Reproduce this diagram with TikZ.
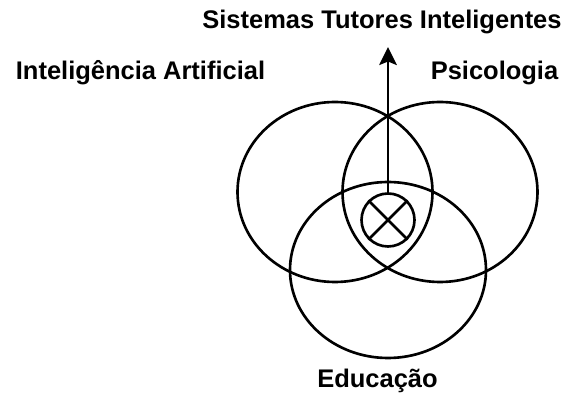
\documentclass[tikz,border=0pt]{standalone}
\usepackage{fontspec}
\setmainfont{Liberation Sans}
\usetikzlibrary{arrows.meta, positioning, shapes.geometric}

\begin{document}
\begin{tikzpicture}[
        area/.style={ellipse, draw=black, line width=1.5pt, inner sep=0pt},
        label/.style={anchor=base, inner sep=0pt, font=\fontsize{14.5}{17}\selectfont\bfseries},
        cross/.style={circle, draw=black, line width=1.5pt, inner sep=0pt, minimum size=1.06cm},
        arrow/.style={-{Stealth[length=3.6mm, width=3.5mm, inset=0.7mm]}, line width=1.5pt}
    ]
        \useasboundingbox (0,0) rectangle (11.34,7.88);

        % --- areas ---
        \node[area, minimum width=3.9cm, minimum height=3.6cm]   (ia)     at (6.70,4.04) {};
        \node[area, minimum width=3.9cm, minimum height=3.6cm]   (psico)  at (8.80,4.04) {};
        \node[area, minimum width=3.92cm, minimum height=3.52cm] (edu)    at (7.76,2.48) {};

        % --- intersection ---
        \node[cross] (sti) at (7.76,3.48) {};
        \draw[line width=1.5pt] (sti.45)  -- (sti.225);
        \draw[line width=1.5pt] (sti.135) -- (sti.-45);

        % --- labels ---
        \node[label] (stitle)  at (7.64,7.30) {Sistemas Tutores Inteligentes};
        \node[label] (tia)     at (2.81,6.28) {Inteligência Artificial};
        \node[label] (tpsico)  at (9.89,6.28) {Psicologia};
        \node[label] (tedu)    at (7.55,0.12) {Educação};

        \coordinate (tip) at (7.76,6.94);
        \draw[arrow] (sti.north) -- (tip);

    \end{tikzpicture}
\end{document}
